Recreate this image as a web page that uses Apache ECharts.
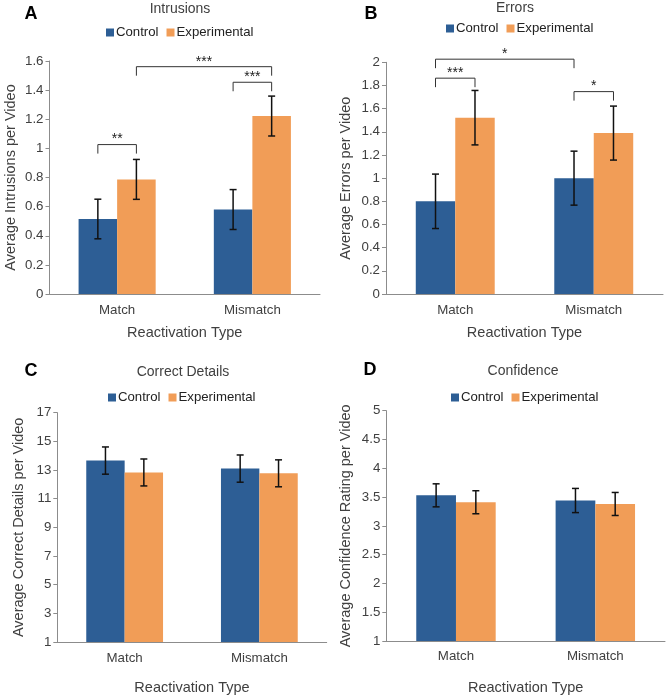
<!DOCTYPE html>
<html><head><meta charset="utf-8">
<script src="https://cdn.jsdelivr.net/npm/echarts@6/dist/echarts.min.js"></script>
<style>html,body{margin:0;padding:0;background:#fff}#c{width:666px;height:696px}</style>
</head><body><div id="c"></div>
<script>
// ---------- data ----------
const categories = ['Match', 'Mismatch'];
const seriesNames = ['Control', 'Experimental'];

// A: Intrusions
const intrusionsControl = [0.515, 0.580];
const intrusionsControlErr = [0.136, 0.137];
const intrusionsExperimental = [0.787, 1.222];
const intrusionsExperimentalErr = [0.137, 0.137];
const intrusionsTicks = [0, 0.2, 0.4, 0.6, 0.8, 1, 1.2, 1.4, 1.6];
// [category1, bar1 (-1 control / 1 experimental), category2, bar2, height]
const intrusionsSig = [[0, 1, 1, 1, 1.561], [1, -1, 1, 1, 1.454], [0, -1, 0, 1, 1.026]];
const intrusionsSigLabels = ['***', '***', '**'];

// B: Errors
const errorsControl = [0.80, 1.00];
const errorsControlErr = [0.235, 0.233];
const errorsExperimental = [1.522, 1.389];
const errorsExperimentalErr = [0.235, 0.233];
const errorsTicks = [0, 0.2, 0.4, 0.6, 0.8, 1, 1.2, 1.4, 1.6, 1.8, 2];
const errorsSig = [[0, -1, 1, -1, 2.027], [0, -1, 0, 1, 1.863], [1, -1, 1, 1, 1.747]];
const errorsSigLabels = ['*', '***', '*'];

// C: Correct Details
const detailsControl = [13.66, 13.10];
const detailsControlErr = [0.95, 0.95];
const detailsExperimental = [12.83, 12.77];
const detailsExperimentalErr = [0.94, 0.94];
const detailsTicks = [1, 3, 5, 7, 9, 11, 13, 15, 17];

// D: Confidence
const confidenceControl = [3.53, 3.44];
const confidenceControlErr = [0.20, 0.21];
const confidenceExperimental = [3.41, 3.38];
const confidenceExperimentalErr = [0.20, 0.20];
const confidenceTicks = [1, 1.5, 2, 2.5, 3, 3.5, 4, 4.5, 5];

// ---------- styling / layout ----------
const FONT = 'Liberation Sans, Arial, sans-serif';
const TXT = '#404040';
const BLUE = '#2D5E95';
const ORANGE = '#F19D57';
const GAP = 0.43;

const panels = [
  { letter: 'A', title: 'Intrusions', yName: 'Average Intrusions per Video',
    grid: { left: 49.5, top: 61, width: 270.5, height: 233 },
    titlePos: [180, 9], letterPos: [31, 14], legendPos: [106, 26],
    yNameGap: 31, xLabelMargin: 10, xNameGap: 31,
    ctl: intrusionsControl, ctlErr: intrusionsControlErr,
    exp: intrusionsExperimental, expErr: intrusionsExperimentalErr,
    ticks: intrusionsTicks, sig: intrusionsSig, sigLabels: intrusionsSigLabels },
  { letter: 'B', title: 'Errors', yName: 'Average Errors per Video',
    grid: { left: 386, top: 62.3, width: 277, height: 231.7 },
    titlePos: [515, 8.5], letterPos: [371, 14], legendPos: [446, 22],
    yNameGap: 33, xLabelMargin: 10, xNameGap: 31,
    ctl: errorsControl, ctlErr: errorsControlErr,
    exp: errorsExperimental, expErr: errorsExperimentalErr,
    ticks: errorsTicks, sig: errorsSig, sigLabels: errorsSigLabels },
  { letter: 'C', title: 'Correct Details', yName: 'Average Correct Details per Video',
    grid: { left: 57.3, top: 412.7, width: 269.4, height: 230 },
    titlePos: [183, 371.7], letterPos: [31, 371], legendPos: [108, 391],
    yNameGap: 31, xLabelMargin: 10, xNameGap: 38,
    ctl: detailsControl, ctlErr: detailsControlErr,
    exp: detailsExperimental, expErr: detailsExperimentalErr,
    ticks: detailsTicks, sig: [], sigLabels: [] },
  { letter: 'D', title: 'Confidence', yName: 'Average Confidence Rating per Video',
    grid: { left: 386.3, top: 410.7, width: 278.7, height: 231 },
    titlePos: [523, 370.7], letterPos: [370, 370], legendPos: [451, 391],
    yNameGap: 33, xLabelMargin: 9, xNameGap: 39,
    ctl: confidenceControl, ctlErr: confidenceControlErr,
    exp: confidenceExperimental, expErr: confidenceExperimentalErr,
    ticks: confidenceTicks, sig: [], sigLabels: [] }
];

function barWidth(api) { return api.size([1, 0])[0] * (1 - GAP) / 2; }

function errRender(side) {
  return function (params, api) {
    const i = api.value(0);
    const hi = api.coord([i, api.value(2)]);
    const lo = api.coord([i, api.value(1)]);
    const x = hi[0] + side * barWidth(api) / 2;
    const cap = 3.5;
    const st = { stroke: '#111', lineWidth: 1.5 };
    return { type: 'group', children: [
      { type: 'line', shape: { x1: x, y1: hi[1], x2: x, y2: lo[1] }, style: st },
      { type: 'line', shape: { x1: x - cap, y1: hi[1], x2: x + cap, y2: hi[1] }, style: st },
      { type: 'line', shape: { x1: x - cap, y1: lo[1], x2: x + cap, y2: lo[1] }, style: st }
    ] };
  };
}

function sigRender(labels) {
  return function (params, api) {
    const bw = barWidth(api);
    const p1 = api.coord([api.value(0), api.value(4)]);
    const p2 = api.coord([api.value(2), api.value(4)]);
    const x1 = p1[0] + api.value(1) * bw / 2;
    const x2 = p2[0] + api.value(3) * bw / 2;
    const y = p1[1];
    const LEG = 9;
    return { type: 'group', children: [
      { type: 'polyline', shape: { points: [[x1, y + LEG], [x1, y], [x2, y], [x2, y + LEG]] },
        style: { stroke: '#333', lineWidth: 1, fill: null } },
      { type: 'text', x: (x1 + x2) / 2, y: y + 2,
        style: { text: labels[params.dataIndex], align: 'center', verticalAlign: 'bottom',
                 font: '14px ' + FONT, fill: '#222' } }
    ] };
  };
}

const grid = [], xAxis = [], yAxis = [], series = [], legend = [], graphic = [];

panels.forEach((p, k) => {
  grid.push(p.grid);
  xAxis.push({
    type: 'category', gridIndex: k, data: categories,
    name: 'Reactivation Type', nameLocation: 'middle', nameGap: p.xNameGap,
    nameTextStyle: { fontFamily: FONT, fontSize: 14.5, color: TXT },
    axisLine: { lineStyle: { color: '#8c8c8c', width: 1 } },
    axisTick: { length: 5, lineStyle: { color: '#8c8c8c' } },
    axisLabel: { fontFamily: FONT, fontSize: 13.3, color: TXT, margin: p.xLabelMargin }
  });
  yAxis.push({
    type: 'value', gridIndex: k, min: p.ticks[0], max: p.ticks[p.ticks.length - 1],
    name: p.yName, nameLocation: 'middle', nameGap: p.yNameGap,
    nameTextStyle: { fontFamily: FONT, fontSize: 14.5, color: TXT },
    axisLine: { show: true, lineStyle: { color: '#8c8c8c', width: 1 } },
    axisTick: { show: true, length: 4, customValues: p.ticks, lineStyle: { color: '#8c8c8c' } },
    axisLabel: { fontFamily: FONT, fontSize: 13.3, color: TXT, margin: 6, customValues: p.ticks },
    splitLine: { show: false }
  });
  const sets = [[p.ctl, p.ctlErr, BLUE, 'Control', -1], [p.exp, p.expErr, ORANGE, 'Experimental', 1]];
  sets.forEach(([vals, errs, col, name, side]) => {
    series.push({
      type: 'bar', name: name, xAxisIndex: k, yAxisIndex: k, data: vals,
      barGap: '0%', barCategoryGap: (GAP * 100) + '%',
      itemStyle: { color: col }, emphasis: { disabled: true }
    });
  });
  sets.forEach(([vals, errs, col, name, side]) => {
    series.push({
      type: 'custom', name: name + ' SE', xAxisIndex: k, yAxisIndex: k,
      renderItem: errRender(side), encode: { x: 0, y: [1, 2] }, z: 5,
      data: vals.map((v, i) => [i, v - errs[i], v + errs[i]])
    });
  });
  if (p.sig.length) {
    series.push({
      type: 'custom', name: 'sig', xAxisIndex: k, yAxisIndex: k, clip: false,
      renderItem: sigRender(p.sigLabels), encode: { x: 0, y: 4 }, z: 6, data: p.sig
    });
  }
  legend.push({
    data: seriesNames, left: p.legendPos[0], top: p.legendPos[1], padding: 0,
    icon: 'rect', itemWidth: 8, itemHeight: 8, itemGap: 8,
    textStyle: { fontFamily: FONT, fontSize: 13.2, color: '#222', padding: [0, 0, 0, -3] },
    selectedMode: false
  });
  graphic.push({ type: 'text', x: p.titlePos[0], y: p.titlePos[1],
    style: { text: p.title, align: 'center', verticalAlign: 'middle', font: '14px ' + FONT, fill: TXT } });
  graphic.push({ type: 'text', x: p.letterPos[0], y: p.letterPos[1],
    style: { text: p.letter, align: 'center', verticalAlign: 'middle', font: 'bold 18px ' + FONT, fill: '#000' } });
});

const chart = echarts.init(document.getElementById('c'), null, { renderer: 'canvas' });
chart.setOption({
  animation: false, backgroundColor: '#fff',
  grid, xAxis, yAxis, series, legend, graphic
});
</script></body></html>
